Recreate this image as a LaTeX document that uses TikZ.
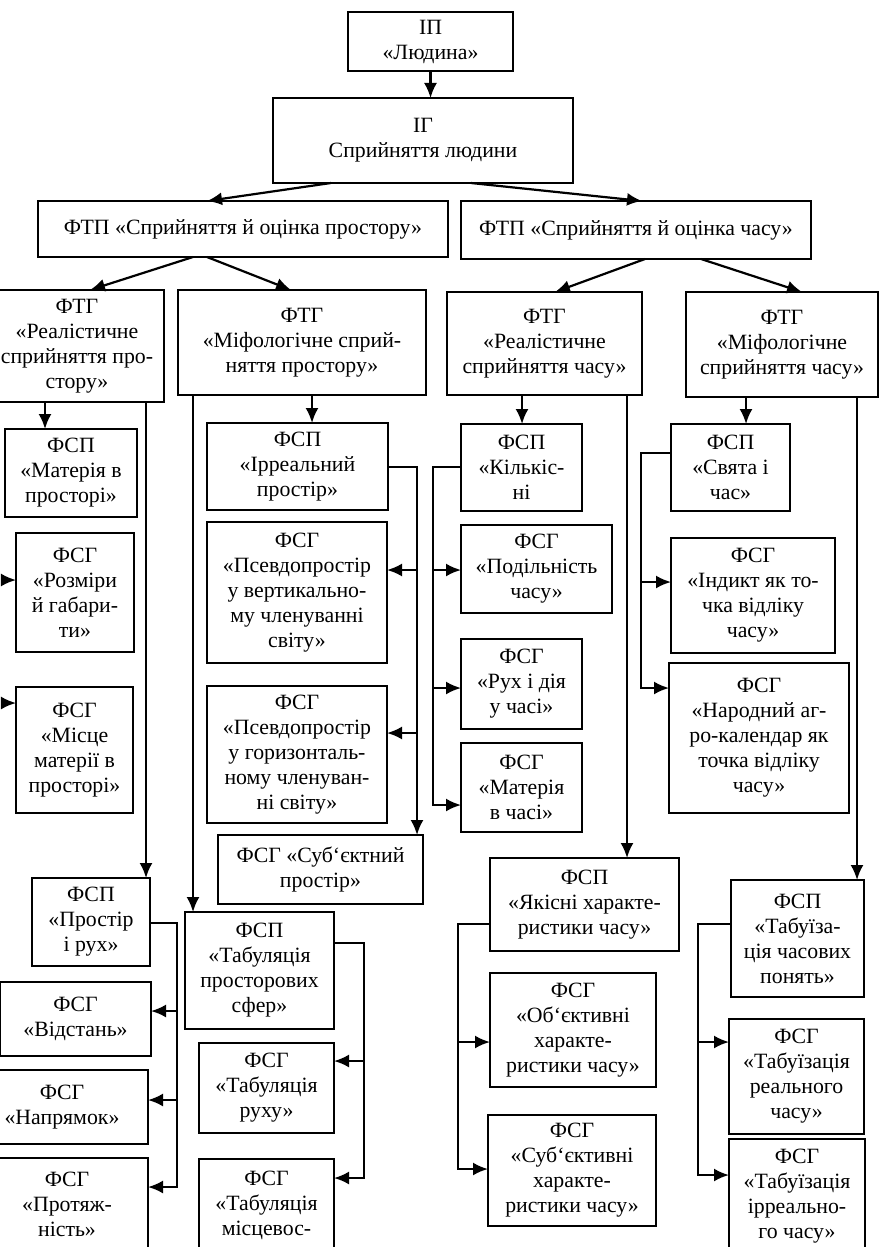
\documentclass[tikz,border=0pt]{standalone}
\usepackage{fontspec}
\setmainfont{Liberation Serif}
\usetikzlibrary{arrows.meta,calc}
\tikzset{
  blk/.style={draw, line width=1.1pt, inner sep=0pt, outer sep=0pt,
    align=center, font=\fontsize{10.9}{12.5}\selectfont},
  arr/.style={line width=1.1pt, -{Latex[length=7.5pt,width=6.5pt]}}
}
% box from its corners (x1,y1) (x2,y2), in pixels of the page
\newcommand{\blkat}[6]{%
  \node[blk, minimum width={(#4-(#2))*0.5pt}, minimum height={(#5-(#3))*0.5pt}]
    (#1) at ({(#2+#4)/2},{(#3+#5)/2}) {#6};}

\begin{document}
\begin{tikzpicture}[x=0.5pt, y=-0.5pt]
\useasboundingbox (0,0) rectangle (879,1247);
% top levels
\blkat{ip}{348}{12}{513}{71}{ІП\\«Людина»}
\blkat{ig}{273}{98}{573}{183}{ІГ\\Сприйняття людини}
\blkat{ftpL}{38}{201}{448}{257}{ФТП «Сприйняття й оцінка простору»}
\blkat{ftpR}{461}{201}{811}{259}{ФТП «Сприйняття й оцінка часу»}
\blkat{ftgA}{-10}{290}{164}{402}{ФТГ\\«Реалістичне\\сприйняття про-\\стору»}
\blkat{ftgB}{178}{290}{426}{395}{ФТГ\\«Міфологічне сприй-\\няття простору»}
\blkat{ftgC}{447}{292}{642}{395}{ФТГ\\«Реалістичне\\сприйняття часу»}
\blkat{ftgD}{686}{292}{878}{397}{ФТГ\\«Міфологічне\\сприйняття часу»}
% space, realistic
\blkat{fspA1}{5}{429}{137}{517}{ФСП\\«Матерія в\\просторі»}
\blkat{fsgA1}{16}{533}{134}{652}{ФСГ\\«Розміри\\й габари-\\ти»}
\blkat{fsgA2}{16}{687}{133}{813}{ФСГ\\«Місце\\матерії в\\просторі»}
\blkat{fspA2}{32}{878}{150}{966}{ФСП\\«Простір\\і рух»}
\blkat{fsgA3}{0}{982}{151}{1056}{ФСГ\\«Відстань»}
\blkat{fsgA4}{-24}{1070}{148}{1144}{ФСГ\\«Напрямок»}
\blkat{fsgA5}{-14}{1158}{148}{1250}{ФСГ\\«Протяж-\\ність»}
% space, mythological
\blkat{fspB1}{207}{423}{388}{510}{ФСП\\«Ірреальний\\простір»}
\blkat{fsgB1}{207}{522}{387}{663}{ФСГ\\«Псевдопростір\\у вертикально-\\му членуванні\\світу»}
\blkat{fsgB2}{207}{686}{387}{823}{ФСГ\\«Псевдопростір\\у горизонталь-\\ному членуван-\\ні світу»}
\blkat{fsgB3}{218}{835}{423}{904}{ФСГ «Суб‘єктний\\простір»}
\blkat{fspB2}{185}{912}{334}{1029}{ФСП\\«Табуляція\\просторових\\сфер»}
\blkat{fsgB4}{199}{1043}{334}{1133}{ФСГ\\«Табуляція\\руху»}
\blkat{fsgB5}{199}{1159}{334}{1252}{ФСГ\\«Табуляція\\місцевос-}
% time, realistic
\blkat{fspC1}{461}{424}{582}{511}{ФСП\\«Кількіс-\\ні}
\blkat{fsgC1}{461}{525}{612}{613}{ФСГ\\«Подільність\\часу»}
\blkat{fsgC2}{461}{639}{582}{729}{ФСГ\\«Рух і дія\\у часі»}
\blkat{fsgC3}{461}{743}{582}{832}{ФСГ\\«Матерія\\в часі»}
\blkat{fspC2}{490}{858}{679}{951}{ФСП\\«Якісні характе-\\ристики часу»}
\blkat{fsgC4}{490}{973}{656}{1087}{ФСГ\\«Об‘єктивні\\характе-\\ристики часу»}
\blkat{fsgC5}{488}{1115}{656}{1226}{ФСГ\\«Суб‘єктивні\\характе-\\ристики часу»}
% time, mythological
\blkat{fspD1}{671}{424}{790}{511}{ФСП\\«Свята і\\час»}
\blkat{fsgD1}{671}{538}{835}{653}{ФСГ\\«Індикт як то-\\чка відліку\\часу»}
\blkat{fsgD2}{669}{663}{849}{813}{ФСГ\\«Народний аг-\\ро-календар як\\точка відліку\\часу»}
\blkat{fspD2}{731}{880}{864}{997}{ФСП\\«Табуїза-\\ція часових\\понять»}
\blkat{fsgD3}{729}{1019}{864}{1134}{ФСГ\\«Табуїзація\\реального\\часу»}
\blkat{fsgD4}{729}{1139}{865}{1253}{ФСГ\\«Табуїзація\\ірреально-\\го часу»}
% bus points
\coordinate (inA1) at (3,580);
\coordinate (inA2) at (3,703);
\coordinate (busA) at (177,923);
\coordinate (busB) at (417,467);
\coordinate (busB2) at (364,943);
\coordinate (busC) at (433,467);
\coordinate (busC2) at (458,924);
\coordinate (busD) at (641,453);
\coordinate (busD2) at (698,924);
% arrows, top
\draw[arr] (ip.south) -- (ip.south |- ig.north);
\draw[arr] (ig.south -| 331,0) -- (ftpL.north -| 207,0);
\draw[arr] (ig.south -| 471,0) -- (ftpR.north -| 642,0);
\draw[arr] (ftpL.south -| 193,0) -- (ftgA.north -| 90,0);
\draw[arr] (ftpL.south -| 207,0) -- (ftgB.north -| 291,0);
\draw[arr] (ftpR.south -| 645,0) -- (ftgC.north -| 555,0);
\draw[arr] (ftpR.south -| 701,0) -- (ftgD.north -| 802,0);
% arrows, space
\draw[arr] (ftgA.south -| 45,0) -- (fspA1.north -| 45,0);
\draw[arr] (ftgA.south -| 146,0) -- (fspA2.north -| 146,0);
\draw[arr] (inA1) -- (inA1 -| fsgA1.west);
\draw[arr] (inA2) -- (inA2 -| fsgA2.west);
\draw[arr] (fspA2.east |- busA) -| (busA |- 0,1011) -- (fsgA3.east |- 0,1011);
\draw[arr] (busA |- 0,1011) |- (fsgA4.east |- 0,1100);
\draw[arr] (busA |- 0,1100) |- (fsgA5.east |- 0,1187);
\draw[arr] (ftgB.south -| 312,0) -- (fspB1.north -| 312,0);
\draw[arr] (ftgB.south -| 193,0) -- (fspB2.north -| 193,0);
\draw[arr] (fspB1.east |- busB) -| (busB |- fsgB3.north);
\draw[arr] (busB |- 0,570) -- (fsgB1.east |- 0,570);
\draw[arr] (busB |- 0,733) -- (fsgB2.east |- 0,733);
\draw[arr] (fspB2.east |- busB2) -| (busB2 |- 0,1061) -- (fsgB4.east |- 0,1061);
\draw[arr] (busB2 |- 0,1061) |- (fsgB5.east |- 0,1178);
% arrows, time
\draw[arr] (ftgC.south -| 522,0) -- (fspC1.north -| 522,0);
\draw[arr] (ftgC.south -| 627,0) -- (fspC2.north -| 627,0);
\draw[arr] (fspC1.west |- busC) -| (busC |- 0,570) -- (fsgC1.west |- 0,570);
\draw[arr] (busC |- 0,570) |- (fsgC2.west |- 0,688);
\draw[arr] (busC |- 0,688) |- (fsgC3.west |- 0,805);
\draw[arr] (fspC2.west |- busC2) -| (busC2 |- 0,1042) -- (fsgC4.west |- 0,1042);
\draw[arr] (busC2 |- 0,1042) |- (fsgC5.west |- 0,1169);
\draw[arr] (ftgD.south -| 746,0) -- (fspD1.north -| 746,0);
\draw[arr] (ftgD.south -| 857,0) -- (fspD2.north -| 857,0);
\draw[arr] (fspD1.west |- busD) -| (busD |- 0,582) -- (fsgD1.west |- 0,582);
\draw[arr] (busD |- 0,582) |- (fsgD2.west |- 0,688);
\draw[arr] (fspD2.west |- busD2) -| (busD2 |- 0,1042) -- (fsgD3.west |- 0,1042);
\draw[arr] (busD2 |- 0,1042) |- (fsgD4.west |- 0,1175);
\end{tikzpicture}
\end{document}
